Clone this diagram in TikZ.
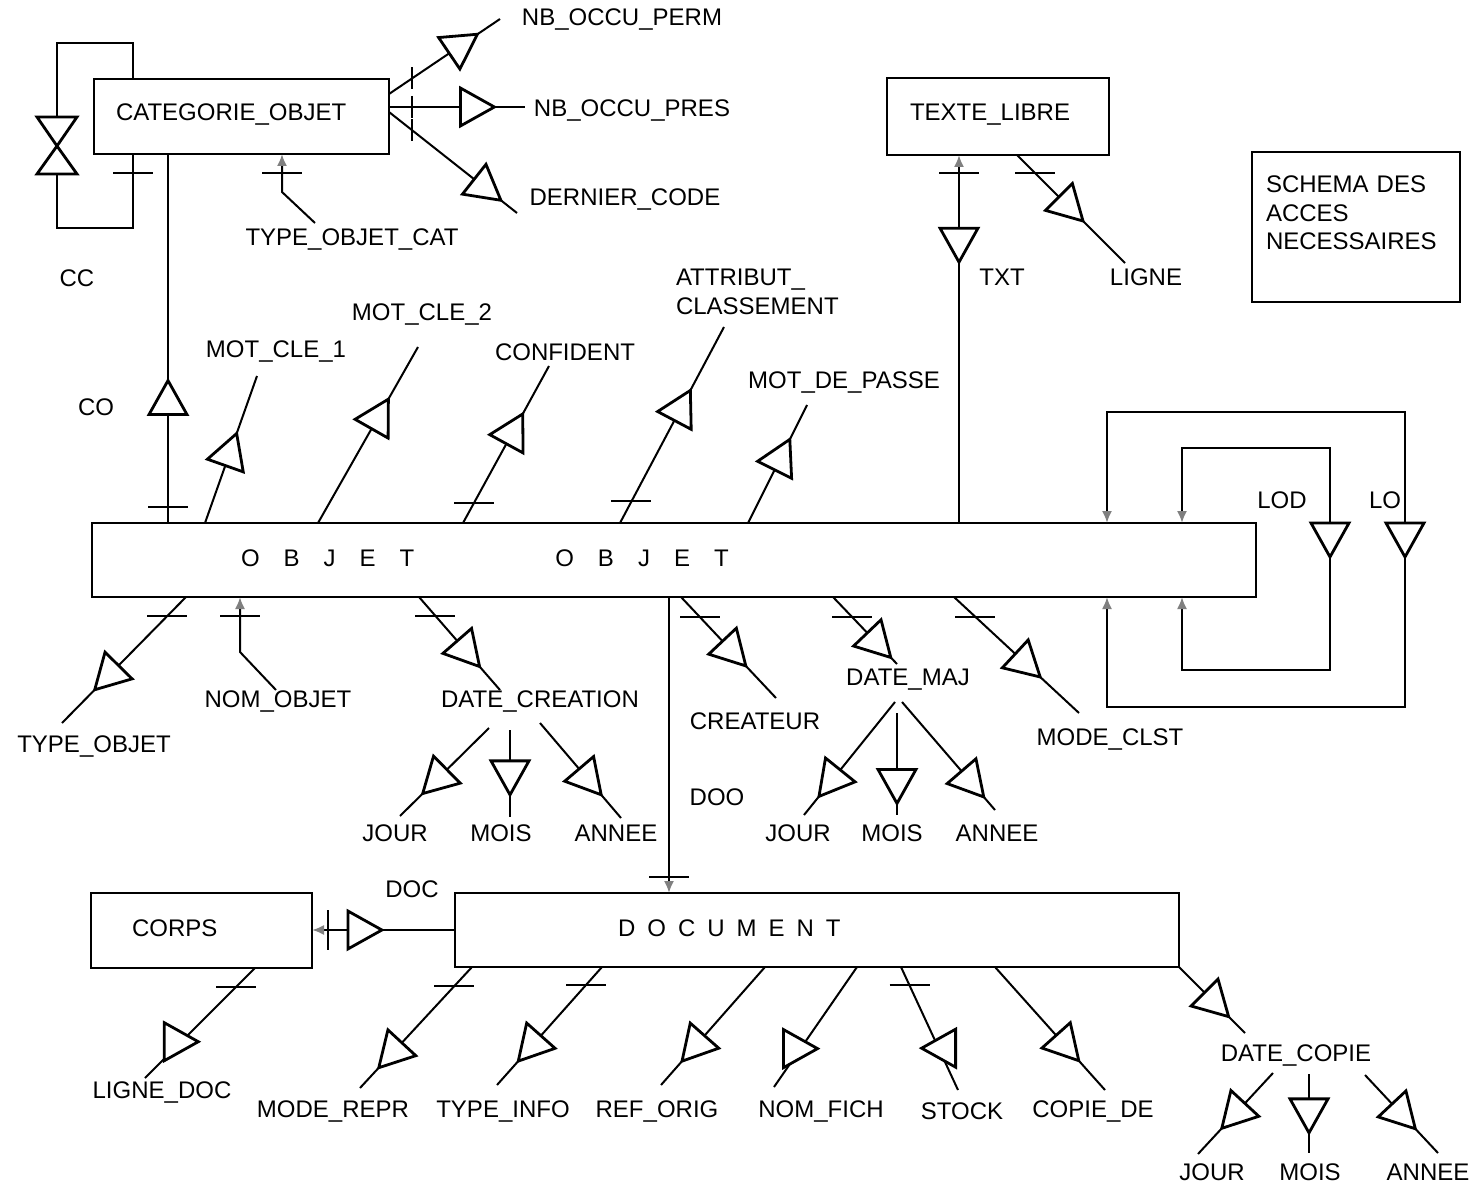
\documentclass[tikz,border=0pt]{standalone}
\usepackage{fontspec}
\setmainfont{Liberation Sans}
\usetikzlibrary{arrows.meta,decorations.markings}

\tikzset{
  tri/.pic={\draw[-,fill=white,line width=1.4pt] (-8.5pt,-9.5pt) -- (8.5pt,0pt) -- (-8.5pt,9.5pt) -- cycle;},
  acc/.style={postaction={decorate,decoration={markings,mark=at position #1 with {\pic[transform shape]{tri};}}}},
  accr/.style={postaction={decorate,decoration={markings,mark=at position #1 with {\pic[transform shape,rotate=180]{tri};}}}},
  box/.style={draw,line width=1pt,align=left,font=\fontsize{12}{14.25}\selectfont},
  lbl/.style={font=\fontsize{12}{14.25}\selectfont,inner sep=1pt},
  gend/.style={-{Latex[length=6pt,width=5pt,color=gray]}},
  gboth/.style={{Latex[length=6pt,width=5pt,color=gray]}-{Latex[length=6pt,width=5pt,color=gray]}},
}
\newcommand{\tickh}[1]{\draw (#1) +(-20,0) -- +(20,0);}
\newcommand{\tickv}[2][11]{\draw (#2) +(0,-#1) -- +(0,#1);}

\begin{document}
\begin{tikzpicture}[x=0.5pt,y=-0.5pt,line width=1pt]
\useasboundingbox (0,0) rectangle (1479,1188);

% boxes
\node[box,minimum width=147.5pt,minimum height=37.5pt,inner xsep=11pt,text width=125.5pt,text depth=4pt] (cat) at (241.5,116.5) {CATEGORIE\_OBJET};
\node[box,minimum width=111pt,minimum height=38.5pt,inner xsep=11.5pt,text width=88pt,text depth=4pt] (txtl) at (998,116.5) {TEXTE\_LIBRE};
\node[box,minimum width=104pt,minimum height=75pt,inner xsep=7pt,text width=90pt,text depth=42.5pt] (schema) at (1356,227) {SCHEMA DES\\ACCES\\NECESSAIRES};
\node[box,minimum width=582pt,minimum height=37pt,inner xsep=74.5pt,text width=433pt,text depth=2pt] (objet) at (674,560)
  {O\hspace{1em}B\hspace{1em}J\hspace{1em}E\hspace{1em}T\hspace{70.5pt}O\hspace{1em}B\hspace{1em}J\hspace{1em}E\hspace{1em}T};
\node[box,minimum width=362pt,minimum height=37pt,inner xsep=81.5pt,text width=199pt,text depth=2pt] (docu) at (817,930)
  {D\hspace{.5em}O\hspace{.5em}C\hspace{.5em}U\hspace{.5em}M\hspace{.5em}E\hspace{.5em}N\hspace{.5em}T};
\node[box,minimum width=110.5pt,minimum height=37.5pt,inner xsep=20.5pt,text width=69.5pt,text depth=2pt] (corps) at (201.5,930.5) {CORPS};

% CC
\coordinate (cc1) at (133,79);
\coordinate (cc2) at (57,43);
\coordinate (cc3) at (57,117);
\coordinate (cc4) at (57,146);
\coordinate (cc5) at (57,174);
\coordinate (cc6) at (133,228);
\coordinate (cc7) at (133,154);
\draw (cc1) |- (cc2) -- (cc3) (cc5) |- (cc6) -- coordinate[pos=0.74] (cct) (cc7);
\draw[line width=1.4pt] (cc4) -- ++(-20,-29) -- ++(40,0) -- cycle (cc4) -- ++(-20,28) -- ++(40,0) -- cycle;
\tickh{cct}
\node[lbl] (cc) at (77,278) {CC};

% CO
\coordinate (co1) at (168,523);
\coordinate (co2) at (168,154);
\draw[acc=0.34] (co1) -- coordinate[pos=0.043] (cot) (co2);
\tickh{cot}
\node[lbl] (co) at (96,407) {CO};

% TYPE_OBJET_CAT
\coordinate (toc1) at (315,223);
\coordinate (toc2) at (282,192);
\coordinate (toc3) at (282,154);
\draw[gend] (toc1) -- (toc2) -- coordinate[pos=0.5] (toct) (toc3);
\tickh{toct}
\node[lbl] (toc) at (352,240) {TYPE\_OBJET\_CAT};

% CATEGORIE_OBJET, right side
\coordinate (np1) at (389,94);
\coordinate (np2) at (500,19);
\draw[acc=0.67] (np1) -- coordinate[pos=0.21] (npt) (np2);
\tickv{npt}
\node[lbl] (np) at (622,20) {NB\_OCCU\_PERM};
\coordinate (nr1) at (389,107);
\coordinate (nr2) at (525,107);
\draw[acc=0.65] (nr1) -- coordinate[pos=0.17] (nrt) (nr2);
\tickv{nrt}
\node[lbl] (nr) at (632,111) {NB\_OCCU\_PRES};
\coordinate (dc1) at (389,112);
\coordinate (dc2) at (517,213);
\draw[acc=0.77] (dc1) -- coordinate[pos=0.18] (dct) (dc2);
\tickv{dct}
\node[lbl] (dc) at (625,200) {DERNIER\_CODE};

% TEXTE_LIBRE
\coordinate (tx1) at (959,523);
\coordinate (tx2) at (959,155);
\draw[gend,accr=0.755] (tx1) -- coordinate[pos=0.951] (txt) (tx2);
\tickh{txt}
\node[lbl] (tx) at (1002,277) {TXT};
\coordinate (li1) at (1017,155);
\coordinate (li2) at (1125,263);
\draw[acc=0.5] (li1) -- coordinate[pos=0.167] (lit) (li2);
\tickh{lit}
\node[lbl] (li) at (1146,277) {LIGNE};

% OBJET, top side
\coordinate (mc1a) at (205,523);
\coordinate (mc1b) at (257,376);
\draw[acc=0.5] (mc1a) -- (mc1b);
\node[lbl] (mc1) at (276,352) {MOT\_CLE\_1};
\coordinate (mc2a) at (318,523);
\coordinate (mc2b) at (418,347);
\draw[acc=0.62] (mc2a) -- (mc2b);
\node[lbl] (mc2) at (422,315) {MOT\_CLE\_2};
\coordinate (cf1) at (463,523);
\coordinate (cf2) at (549,366);
\draw[acc=0.6] (cf1) -- coordinate[pos=0.13] (cft) (cf2);
\tickh{cft}
\node[lbl] (cf) at (565,352) {CONFIDENT};
\coordinate (ac1) at (620,523);
\coordinate (ac2) at (724,327);
\draw[acc=0.6] (ac1) -- coordinate[pos=0.11] (act) (ac2);
\tickh{act}
\node[lbl,align=left,anchor=west] (ac) at (673,292) {ATTRIBUT\_\\CLASSEMENT};
\coordinate (mp1) at (748,523);
\coordinate (mp2) at (807,405);
\draw[acc=0.58] (mp1) -- (mp2);
\node[lbl] (mp) at (844,383) {MOT\_DE\_PASSE};

% LO and LOD
\coordinate (lo1) at (1107,523);
\coordinate (lo2) at (1405,412);
\coordinate (lo3) at (1107,707);
\coordinate (lo4) at (1107,597);
\draw[gboth] (lo1) |- (lo2) |- (lo3) -- (lo4);
\pic[rotate=-90] at (1405,540) {tri};
\node[lbl] (lo) at (1385,500) {LO};
\coordinate (ld1) at (1182,523);
\coordinate (ld2) at (1330,448);
\coordinate (ld3) at (1182,670);
\coordinate (ld4) at (1182,597);
\draw[gboth] (ld1) |- (ld2) |- (ld3) -- (ld4);
\pic[rotate=-90] at (1330,540) {tri};
\node[lbl] (lod) at (1282,500) {LOD};

% OBJET, bottom side
\coordinate (to1) at (186,597);
\coordinate (to2) at (62,723);
\draw[acc=0.64] (to1) -- coordinate[pos=0.15] (tot) (to2);
\tickh{tot}
\node[lbl] (to) at (94,747) {TYPE\_OBJET};
\coordinate (no1) at (276,690);
\coordinate (no2) at (240,652);
\coordinate (no3) at (240,597);
\draw[gend] (no1) -- (no2) -- coordinate[pos=0.655] (not) (no3);
\tickh{not}
\node[lbl] (no) at (278,702) {NOM\_OBJET};
\coordinate (dcr1) at (419,597);
\coordinate (dcr2) at (500,690);
\draw[acc=0.61] (dcr1) -- coordinate[pos=0.2] (dcrt) (dcr2);
\tickh{dcrt}
\node[lbl] (dcr) at (540,702) {DATE\_CREATION};
\coordinate (j1a) at (489,728);
\coordinate (j1b) at (400,816);
\draw[acc=0.61] (j1a) -- (j1b);
\node[lbl] (j1) at (395,833) {JOUR};
\coordinate (m1a) at (510,730);
\coordinate (m1b) at (510,817);
\draw[acc=0.55] (m1a) -- (m1b);
\node[lbl] (m1) at (501,833) {MOIS};
\coordinate (a1a) at (540,723);
\coordinate (a1b) at (621,818);
\draw[acc=0.62] (a1a) -- (a1b);
\node[lbl] (a1) at (616,833) {ANNEE};

\coordinate (doo1) at (669,597);
\coordinate (doo2) at (669,893);
\draw[gend] (doo1) -- coordinate[pos=0.946] (doot) (doo2);
\tickh{doot}
\node[lbl] (doo) at (717,797) {DOO};

\coordinate (cr1) at (681,597);
\coordinate (cr2) at (776,698);
\draw[acc=0.56] (cr1) -- coordinate[pos=0.2] (crt) (cr2);
\tickh{crt}
\node[lbl] (cr) at (755,721) {CREATEUR};
\coordinate (dm1) at (833,597);
\coordinate (dm2) at (897,664);
\draw[acc=0.72] (dm1) -- coordinate[pos=0.3] (dmt) (dm2);
\tickh{dmt}
\node[lbl] (dm) at (908,680) {DATE\_MAJ};
\coordinate (j2a) at (895,702);
\coordinate (j2b) at (804,815);
\draw[acc=0.72] (j2a) -- (j2b);
\node[lbl] (j2) at (798,833) {JOUR};
\coordinate (m2a) at (897,713);
\coordinate (m2b) at (897,815);
\draw[acc=0.72] (m2a) -- (m2b);
\node[lbl] (m2) at (892,833) {MOIS};
\coordinate (a2a) at (902,702);
\coordinate (a2b) at (995,810);
\draw[acc=0.76] (a2a) -- (a2b);
\node[lbl] (a2) at (997,833) {ANNEE};
\coordinate (ml1) at (954,597);
\coordinate (ml2) at (1079,713);
\draw[acc=0.59] (ml1) -- coordinate[pos=0.17] (mlt) (ml2);
\tickh{mlt}
\node[lbl] (ml) at (1110,740) {MODE\_CLST};

% DOCUMENT and CORPS
\coordinate (do1) at (455,930);
\coordinate (do2) at (312,930);
\draw[gend,accr=0.63] (do1) -- coordinate[pos=0.89] (dot) (do2);
\tickv[20]{dot}
\node[lbl] (doc) at (412,889) {DOC};
\coordinate (lg1) at (255,968);
\coordinate (lg2) at (145,1078);
\draw (lg1) -- coordinate[pos=0.17] (lgt) coordinate[pos=0.67] (lgm) (lg2);
\tickh{lgt}
\pic at (lgm) {tri};
\node[lbl] (lg) at (162,1092) {LIGNE\_DOC};

\coordinate (mr1) at (472,967);
\coordinate (mr2) at (360,1088);
\draw[acc=0.73] (mr1) -- coordinate[pos=0.16] (mrt) (mr2);
\tickh{mrt}
\node[lbl] (mr) at (333,1111) {MODE\_REPR};
\coordinate (ti1) at (602,967);
\coordinate (ti2) at (497,1085);
\draw[acc=0.69] (ti1) -- coordinate[pos=0.15] (tit) (ti2);
\tickh{tit}
\node[lbl] (ti) at (503,1111) {TYPE\_INFO};
\coordinate (ro1) at (765,967);
\coordinate (ro2) at (661,1085);
\draw[acc=0.69] (ro1) -- (ro2);
\node[lbl] (ro) at (657,1111) {REF\_ORIG};
\coordinate (nf1) at (857,967);
\coordinate (nf2) at (774,1087);
\draw (nf1) -- coordinate[pos=0.68] (nfm) (nf2);
\pic at (nfm) {tri};
\node[lbl] (nf) at (821,1111) {NOM\_FICH};
\coordinate (st1) at (901,967);
\coordinate (st2) at (958,1090);
\draw (st1) -- coordinate[pos=0.15] (stt) coordinate[pos=0.66] (stm) (st2);
\tickh{stt}
\pic[rotate=180] at (stm) {tri};
\node[lbl] (st) at (962,1111) {STOCK};
\coordinate (cd1) at (995,967);
\coordinate (cd2) at (1105,1090);
\draw[acc=0.66] (cd1) -- (cd2);
\node[lbl] (cd) at (1093,1111) {COPIE\_DE};
\coordinate (dp1) at (1179,967);
\coordinate (dp2) at (1245,1033);
\draw[acc=0.57] (dp1) -- (dp2);
\node[lbl] (dp) at (1296,1055) {DATE\_COPIE};
\coordinate (j3a) at (1273,1073);
\coordinate (j3b) at (1198,1154);
\draw[acc=0.53] (j3a) -- (j3b);
\node[lbl] (j3) at (1212,1172) {JOUR};
\coordinate (m3a) at (1309,1074);
\coordinate (m3b) at (1309,1153);
\draw[acc=0.53] (m3a) -- (m3b);
\node[lbl] (m3) at (1310,1172) {MOIS};
\coordinate (a3a) at (1365,1075);
\coordinate (a3b) at (1438,1153);
\draw[acc=0.53] (a3a) -- (a3b);
\node[lbl] (a3) at (1428,1172) {ANNEE};
\end{tikzpicture}
\end{document}
